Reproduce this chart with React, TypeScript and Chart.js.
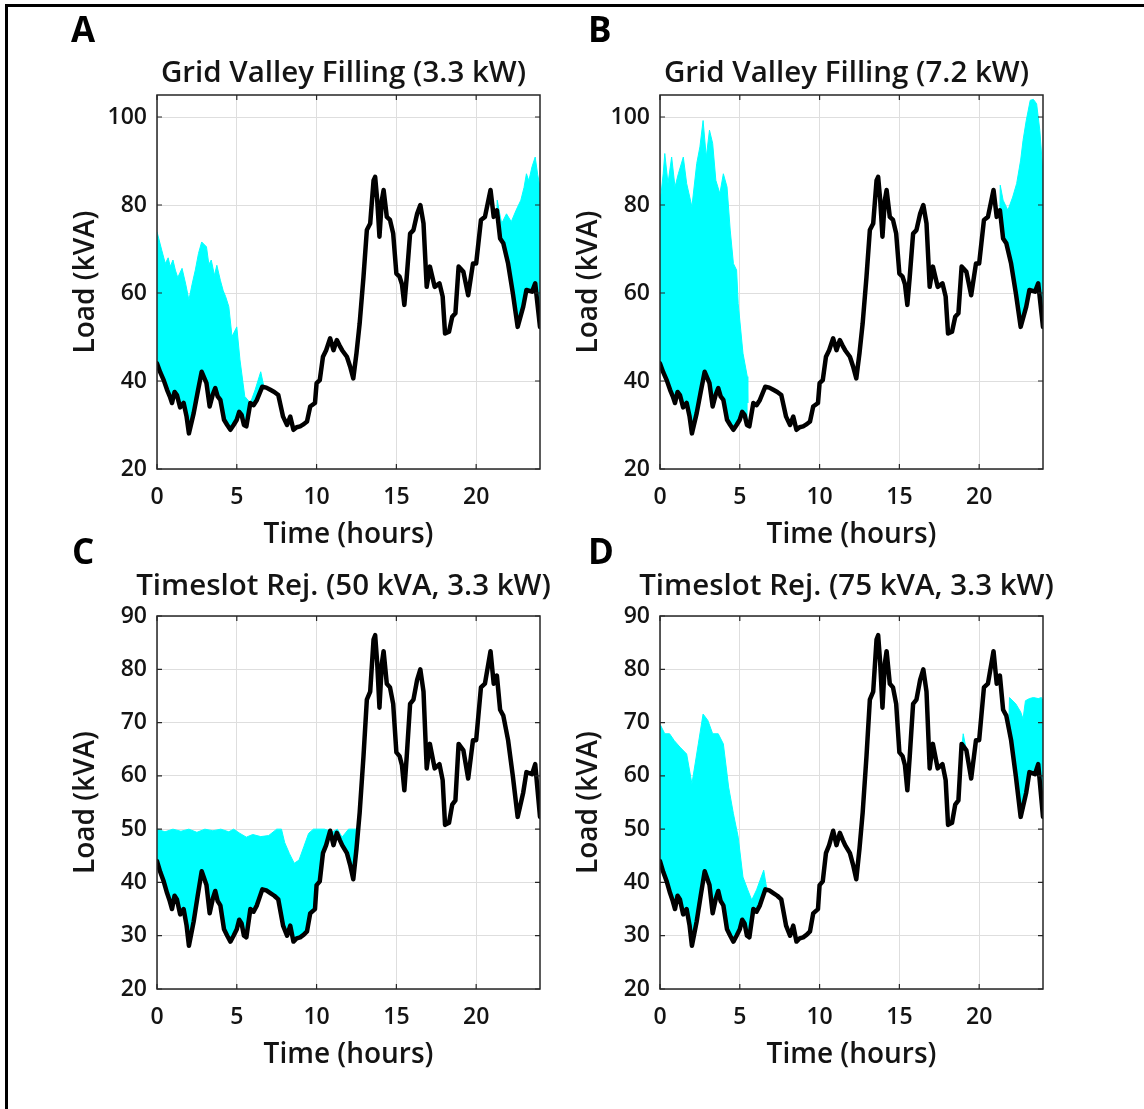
import React, { useEffect, useRef } from "react";
import { Chart, registerables } from "chart.js";

Chart.register(...registerables);

// ---------- data ----------
const BASE_TIME = [0, 0.2, 0.42, 0.63, 0.8, 0.94, 1.1, 1.25, 1.45, 1.67, 1.85, 2.0, 2.3, 2.55, 2.8, 3.1, 3.3, 3.5, 3.65, 3.8, 3.97, 4.2, 4.4, 4.6, 4.8, 5.0, 5.15, 5.3, 5.45, 5.6, 5.85, 6.05, 6.26, 6.6, 6.85, 7.1, 7.35, 7.6, 7.9, 8.15, 8.35, 8.55, 8.75, 8.97, 9.2, 9.4, 9.6, 9.9, 10.0, 10.2, 10.4, 10.6, 10.85, 11.06, 11.27, 11.45, 11.6, 11.9, 12.1, 12.3, 12.5, 12.7, 12.94, 13.15, 13.36, 13.57, 13.67, 13.8, 13.94, 14.09, 14.2, 14.4, 14.6, 14.8, 15.0, 15.2, 15.35, 15.5, 15.65, 15.86, 16.07, 16.3, 16.5, 16.7, 16.9, 17.1, 17.4, 17.7, 17.9, 18.05, 18.3, 18.5, 18.7, 18.9, 19.2, 19.5, 19.8, 20.0, 20.3, 20.55, 20.9, 21.1, 21.3, 21.5, 21.7, 22.0, 22.3, 22.6, 22.95, 23.15, 23.5, 23.7, 24];
const BASE_LOAD = [44, 42, 40.2, 38, 36.5, 35, 37.5, 36.8, 34, 35, 32, 28.1, 32.7, 37.5, 42.1, 39.5, 34.2, 37, 38.4, 36.5, 35.7, 31.2, 30, 28.9, 30, 31.2, 33, 32.3, 30, 29.7, 35, 34.5, 35.7, 38.7, 38.5, 38, 37.5, 36.8, 31.9, 30, 31.9, 28.9, 29.5, 29.7, 30.2, 30.8, 34.2, 35, 39.5, 40.2, 45.5, 47, 49.7, 47, 49.3, 48, 47, 45.5, 43.3, 40.6, 46.3, 53.1, 63.7, 74.3, 75.8, 85.6, 86.4, 81.1, 72.8, 81.1, 83.4, 77.3, 76.6, 73.5, 64.4, 63.7, 62, 57.3, 63.7, 73.5, 74.3, 78, 80, 75.8, 61.4, 66, 61.4, 62.2, 59.2, 50.8, 51.2, 54.6, 55.4, 66, 64.8, 59.5, 66.7, 66.7, 76.6, 77.3, 83.4, 77.3, 78.8, 72.4, 71.3, 66.7, 59.9, 52.3, 56.9, 60.7, 60.3, 62.2, 52.3];

// Panel A: grid valley filling 3.3 kW (upper edge of EV load traces)
const A_EARLY_TIME = [0, 0.3, 0.52, 0.7, 0.83, 1.0, 1.15, 1.3, 1.57, 1.8, 2.0, 2.2, 2.4, 2.6, 2.8, 3.1, 3.25, 3.4, 3.6, 3.75, 3.97, 4.15, 4.3, 4.5, 4.7, 5.0, 5.2, 5.5, 5.85, 6.15, 6.5, 6.7];
const A_EARLY_LOAD = [73.9, 69.7, 66.7, 68, 66, 67.5, 65.2, 63.5, 65.6, 62, 58.4, 62, 65.2, 69, 71.6, 70.5, 66.5, 67.5, 64, 66.3, 62.9, 60.5, 59.2, 56.9, 50.1, 52.3, 44.8, 36.5, 35, 38, 42.1, 38.7];
const A_LATE_TIME = [21.3, 21.32, 21.45, 21.6, 21.9, 22.2, 22.5, 22.8, 23.0, 23.15, 23.3, 23.5, 23.7, 23.85, 24];
const A_LATE_LOAD = [78.8, 81.1, 78.5, 75.8, 78, 76.2, 78.8, 81.1, 84, 87.1, 85.5, 88.7, 90.9, 87, 84.1];

// Panel B: grid valley filling 7.2 kW
const B_EARLY_TIME = [0, 0.2, 0.3, 0.5, 0.73, 0.94, 1.15, 1.46, 1.67, 2.0, 2.3, 2.5, 2.7, 2.9, 3.1, 3.3, 3.5, 3.75, 3.97, 4.2, 4.4, 4.6, 4.8, 4.9, 5.2, 5.47, 5.5];
const B_EARLY_LOAD = [80.3, 87.1, 91.7, 84.9, 90.9, 84.1, 87.1, 90.9, 84.9, 79.6, 89.4, 93.2, 99.2, 90.9, 97, 94, 85.6, 82.6, 87.1, 84.1, 74.3, 66.7, 65.2, 57.6, 46.3, 41, 35];
const B_LATE_TIME = [21.3, 21.32, 21.5, 21.8, 22.1, 22.35, 22.6, 22.75, 22.95, 23.2, 23.4, 23.6, 23.8, 24];
const B_LATE_LOAD = [78.8, 84.5, 81.1, 78.8, 81.8, 84.9, 90.2, 94.7, 99.2, 103.8, 104, 103, 97, 87.1];

// Panel C: timeslot rejection 50 kVA, 3.3 kW
const C_EARLY_TIME = [0, 0.5, 1.0, 1.5, 2.0, 2.5, 3.0, 3.5, 4.0, 4.5, 4.8, 5.2, 5.6, 6.0, 6.5, 7.0, 7.5, 7.8, 8.0, 8.3, 8.6, 8.9, 9.2, 9.5, 9.8, 10.0, 10.5, 11.0, 11.3, 11.6, 12.0, 12.3, 12.6];
const C_EARLY_LOAD = [50, 49.5, 50, 49.6, 50, 49.4, 50, 49.7, 50, 49.5, 50, 49.2, 48.5, 49, 48.6, 48.8, 50, 50, 47.5, 45.4, 43.6, 44.2, 46.7, 49.2, 50, 50, 50, 49.5, 50, 48.5, 50, 50, 50];

// Panel D: timeslot rejection 75 kVA, 3.3 kW
const D_EARLY_TIME = [0, 0.3, 0.6, 0.9, 1.25, 1.67, 2.0, 2.4, 2.7, 3.0, 3.3, 3.65, 3.97, 4.3, 4.6, 4.9, 5.2, 5.5, 5.75, 6.05, 6.5, 6.7];
const D_EARLY_LOAD = [69.7, 67.9, 67.9, 66.6, 65.4, 64.1, 58.5, 66, 71.6, 70.4, 67.9, 67.9, 66, 57.9, 52.9, 48.5, 41, 38.6, 36.7, 38.6, 42.3, 38.6];
const D_MID_TIME = [18.8, 19.0, 19.2];
const D_MID_LOAD = [62, 67.9, 64.8];
const D_LATE_TIME = [21.85, 21.9, 22.3, 22.6, 22.75, 22.9, 23.15, 23.4, 23.7, 23.9, 24];
const D_LATE_LOAD = [69, 74.7, 73.5, 72, 70.7, 74.1, 74.5, 74.7, 74.5, 74.7, 74.1];

const TIME_TICKS = [0, 5, 10, 15, 20];
const LOAD_TICKS_AB = [20, 40, 60, 80, 100];
const LOAD_TICKS_CD = [20, 30, 40, 50, 60, 70, 80, 90];

// ---------- styles ----------
const FONT = '"Open Sans", "DejaVu Sans", sans-serif';
const INK = "#262626";
const TEXT = "#141414";
const GRID = "#dedede";
const CYAN = "#00FFFF";

const zip = (t: number[], v: number[]) => t.map((x, i) => ({ x, y: v[i] }));

type PanelCfg = {
  letter: string;
  title: string;
  titleGap: number;
  plotLeft: number;
  plotTop: number;
  plotRight: number;
  plotBottom: number;
  yMax: number;
  yTicks: number[];
  cyan: { t: number[]; v: number[] }[];
  letterX: number;
  letterY: number;
};

const PANELS: PanelCfg[] = [
  {
    letter: "A", title: "Grid Valley Filling (3.3 kW)", titleGap: 13,
    plotLeft: 157, plotTop: 95, plotRight: 540, plotBottom: 469,
    yMax: 105, yTicks: LOAD_TICKS_AB,
    cyan: [{ t: A_EARLY_TIME, v: A_EARLY_LOAD }, { t: A_LATE_TIME, v: A_LATE_LOAD }],
    letterX: 71, letterY: 11,
  },
  {
    letter: "B", title: "Grid Valley Filling (7.2 kW)", titleGap: 13,
    plotLeft: 660, plotTop: 95, plotRight: 1043, plotBottom: 469,
    yMax: 105, yTicks: LOAD_TICKS_AB,
    cyan: [{ t: B_EARLY_TIME, v: B_EARLY_LOAD }, { t: B_LATE_TIME, v: B_LATE_LOAD }],
    letterX: 588, letterY: 11,
  },
  {
    letter: "C", title: "Timeslot Rej. (50 kVA, 3.3 kW)", titleGap: 21,
    plotLeft: 157, plotTop: 616, plotRight: 540, plotBottom: 989,
    yMax: 90, yTicks: LOAD_TICKS_CD,
    cyan: [{ t: C_EARLY_TIME, v: C_EARLY_LOAD }],
    letterX: 72, letterY: 533,
  },
  {
    letter: "D", title: "Timeslot Rej. (75 kVA, 3.3 kW)", titleGap: 21,
    plotLeft: 660, plotTop: 616, plotRight: 1043, plotBottom: 989,
    yMax: 90, yTicks: LOAD_TICKS_CD,
    cyan: [{ t: D_EARLY_TIME, v: D_EARLY_LOAD }, { t: D_MID_TIME, v: D_MID_LOAD }, { t: D_LATE_TIME, v: D_LATE_LOAD }],
    letterX: 588, letterY: 533,
  },
];

const LEFT_W = 102;
const RIGHT_PAD = 20;
const TOP_PAD = 55;
const BOTTOM_H = 91;

const boxPlugin = {
  id: "matlabBox",
  afterDatasetsDraw(chart: any, _args: any, opts: any) {
    const { ctx, chartArea: a } = chart;
    const xs = chart.scales.x;
    const ys = chart.scales.y;
    ctx.save();
    ctx.strokeStyle = INK;
    ctx.lineWidth = 1.5;
    ctx.strokeRect(a.left, a.top, a.right - a.left, a.bottom - a.top);
    ctx.lineWidth = 1.2;
    const tl = 5;
    ctx.beginPath();
    for (const v of TIME_TICKS) {
      const px = xs.getPixelForValue(v);
      ctx.moveTo(px, a.bottom); ctx.lineTo(px, a.bottom - tl);
      ctx.moveTo(px, a.top); ctx.lineTo(px, a.top + tl);
    }
    for (const v of opts.yTicks) {
      const py = ys.getPixelForValue(v);
      ctx.moveTo(a.left, py); ctx.lineTo(a.left + tl, py);
      ctx.moveTo(a.right, py); ctx.lineTo(a.right - tl, py);
    }
    ctx.stroke();
    ctx.restore();
  },
  afterDraw(chart: any, _args: any, opts: any) {
    const { ctx, chartArea: a } = chart;
    ctx.save();
    ctx.fillStyle = TEXT;
    ctx.font = `600 29.5px ${FONT}`;
    ctx.textAlign = "center";
    ctx.textBaseline = "alphabetic";
    ctx.fillText(opts.title, (a.left + a.right) / 2 - 5, a.top - opts.titleGap);
    ctx.restore();
  },
};

function Panel({ cfg }: { cfg: PanelCfg }) {
  const ref = useRef<HTMLCanvasElement>(null);
  const w = cfg.plotRight - cfg.plotLeft + LEFT_W + RIGHT_PAD;
  const h = cfg.plotBottom - cfg.plotTop + TOP_PAD + BOTTOM_H;
  const left = cfg.plotLeft - LEFT_W;
  const top = cfg.plotTop - TOP_PAD;

  useEffect(() => {
    const datasets: any[] = [
      {
        data: zip(BASE_TIME, BASE_LOAD),
        borderColor: "#000",
        borderWidth: 4.5,
        borderJoinStyle: "round",
        borderCapStyle: "round",
        pointRadius: 0,
        tension: 0,
        order: 0,
        fill: false,
      },
      ...cfg.cyan.map((c) => ({
        data: zip(c.t, c.v),
        borderColor: CYAN,
        backgroundColor: CYAN,
        borderWidth: 1,
        pointRadius: 0,
        tension: 0,
        order: 1,
        fill: 0,
      })),
    ];
    const chart = new Chart(ref.current as HTMLCanvasElement, {
      type: "line",
      data: { datasets },
      plugins: [boxPlugin as any],
      options: {
        responsive: false,
        animation: false,
        events: [],
        layout: { padding: { top: TOP_PAD, right: RIGHT_PAD, left: 0, bottom: 0 } },
        plugins: {
          legend: { display: false },
          tooltip: { enabled: false },
          matlabBox: { title: cfg.title, titleGap: cfg.titleGap, yTicks: cfg.yTicks },
        } as any,
        scales: {
          x: {
            type: "linear",
            min: 0,
            max: 24,
            afterBuildTicks: (s: any) => {
              s.ticks = TIME_TICKS.map((v) => ({ value: v }));
            },
            afterFit: (s: any) => {
              s.height = BOTTOM_H;
            },
            grid: { color: GRID, lineWidth: 1, drawTicks: false },
            border: { display: false },
            ticks: {
              color: TEXT,
              font: { family: FONT, size: 23, weight: "600" },
              padding: 15,
              maxRotation: 0,
              autoSkip: false,
            },
            title: {
              display: true,
              text: "Time (hours)",
              color: TEXT,
              font: { family: FONT, size: 28, weight: "600", lineHeight: 1.2 },
              padding: { top: 0, bottom: 8 },
            },
          },
          y: {
            type: "linear",
            min: 20,
            max: cfg.yMax,
            afterBuildTicks: (s: any) => {
              s.ticks = cfg.yTicks.map((v) => ({ value: v }));
            },
            afterFit: (s: any) => {
              s.width = LEFT_W;
            },
            grid: { color: GRID, lineWidth: 1, drawTicks: false },
            border: { display: false },
            ticks: {
              color: TEXT,
              font: { family: FONT, size: 23, weight: "600" },
              padding: 10,
            },
            title: {
              display: true,
              text: "Load (kVA)",
              color: TEXT,
              font: { family: FONT, size: 28, weight: "600", lineHeight: 1.2 },
              padding: { top: 14, bottom: 0 },
            },
          },
        },
      } as any,
    });
    return () => chart.destroy();
  }, []);

  return (
    <>
      <canvas
        ref={ref}
        width={w}
        height={h}
        style={{ position: "absolute", left, top, width: w, height: h }}
      />
      <div
        style={{
          position: "absolute",
          left: cfg.letterX,
          top: cfg.letterY,
          font: `700 35px ${FONT}`,
          lineHeight: "35px",
          color: "#000",
        }}
      >
        {cfg.letter}
      </div>
    </>
  );
}

export default function App() {
  return (
    <div
      style={{
        position: "absolute",
        left: 0,
        top: 0,
        width: 1144,
        height: 1109,
        background: "#fff",
        overflow: "hidden",
      }}
    >
      <div style={{ position: "absolute", left: 5, top: 4, width: 3, height: 1105, background: "#000" }} />
      <div style={{ position: "absolute", left: 5, top: 4, width: 1139, height: 3, background: "#000" }} />
      {PANELS.map((p) => (
        <Panel key={p.letter} cfg={p} />
      ))}
    </div>
  );
}
